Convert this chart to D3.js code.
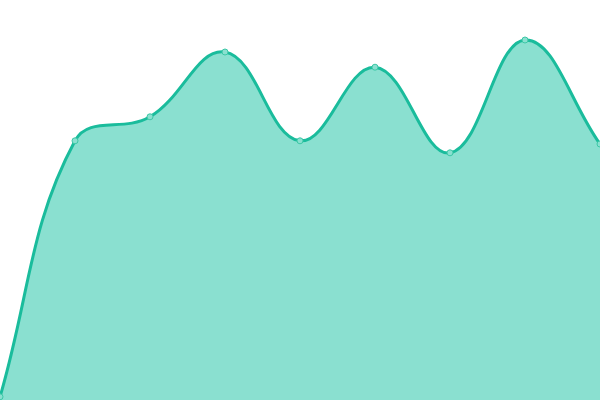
<!DOCTYPE html>
<html>

<head>
    <title>Smooth Area</title>
    <script src="https://d3js.org/d3.v7.min.js"></script>
    <style>
        body {
            margin: 0;
            background: #fff;
        }

        .area {
            fill: #8ae0d0;
        }

        .line {
            fill: none;
            stroke: #1abc9c;
            stroke-width: 3px;
        }

        .dot {
            fill: #8ae0d0;
            stroke: #3cc8a6;
            stroke-width: 1px;
        }
    </style>
</head>

<body>
    <script>
        var categories = ["P1", "P2", "P3", "P4", "P5", "P6", "P7", "P8", "P9"];
        var values = [0.8, 64.8, 70.8, 87, 64.8, 83.2, 61.8, 90, 64];

        var width = 600,
            height = 400;

        var x = d3.scalePoint().domain(categories).range([0, width]);
        var y = d3.scaleLinear().domain([0, 100]).range([height, 0]);

        // spline with tension 0.4, control points split by segment length
        // and capped to the drawing area
        function TensionCurve(context) {
            this._context = context;
        }
        TensionCurve.prototype = {
            areaStart: function () { this._line = 0; },
            areaEnd: function () { this._line = NaN; },
            lineStart: function () { this._pts = []; },
            point: function (px, py) { this._pts.push([+px, +py]); },
            lineEnd: function () {
                var p = this._pts, n = p.length, ctx = this._context, t = 0.4;
                var cps = p.map(function (cur, i) {
                    var prev = p[i - 1] || cur, next = p[i + 1] || cur;
                    var d01 = Math.hypot(cur[0] - prev[0], cur[1] - prev[1]);
                    var d12 = Math.hypot(next[0] - cur[0], next[1] - cur[1]);
                    var s01 = d01 / (d01 + d12), s12 = d12 / (d01 + d12);
                    if (isNaN(s01)) s01 = 0;
                    if (isNaN(s12)) s12 = 0;
                    var fa = t * s01, fb = t * s12;
                    var dx = next[0] - prev[0], dy = next[1] - prev[1];
                    var cap = function (a, b) {
                        return [Math.max(0, Math.min(width, a)), Math.max(0, Math.min(height, b))];
                    };
                    return {
                        prev: cap(cur[0] - fa * dx, cur[1] - fa * dy),
                        next: cap(cur[0] + fb * dx, cur[1] + fb * dy)
                    };
                });
                if (n) {
                    if (this._line) ctx.lineTo(p[0][0], p[0][1]);
                    else ctx.moveTo(p[0][0], p[0][1]);
                }
                for (var i = 1; i < n; i++) {
                    ctx.bezierCurveTo(cps[i - 1].next[0], cps[i - 1].next[1],
                        cps[i].prev[0], cps[i].prev[1], p[i][0], p[i][1]);
                }
                if (this._line) ctx.closePath();
                this._line = 1 - this._line;
            }
        };
        var tension = function (context) { return new TensionCurve(context); };

        var data = categories.map((c, i) => ({ cat: c, value: values[i] }));

        var svg = d3.select("body").append("svg")
            .attr("width", width)
            .attr("height", height);

        svg.append("path")
            .datum(data)
            .attr("class", "area")
            .attr("d", d3.area()
                .x(d => x(d.cat))
                .y0(y(0))
                .y1(d => y(d.value))
                .curve(tension));

        svg.append("path")
            .datum(data)
            .attr("class", "line")
            .attr("d", d3.line()
                .x(d => x(d.cat))
                .y(d => y(d.value))
                .curve(tension));

        svg.selectAll(".dot")
            .data(data)
            .enter()
            .append("circle")
            .attr("class", "dot")
            .attr("cx", d => x(d.cat))
            .attr("cy", d => y(d.value))
            .attr("r", 3);
    </script>
</body>

</html>
